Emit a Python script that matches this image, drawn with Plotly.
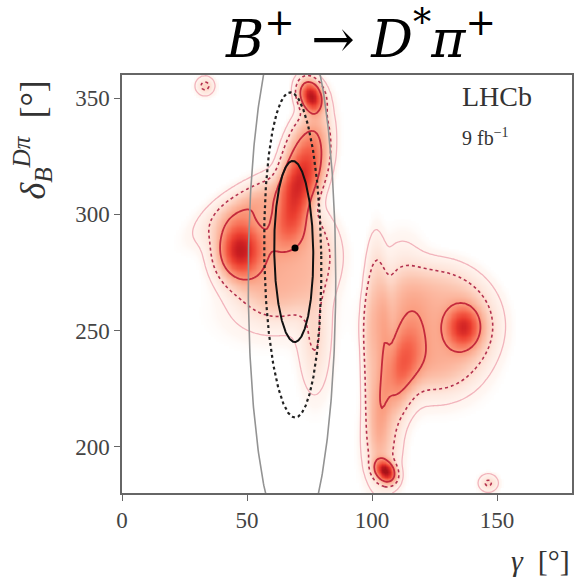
import numpy as np
import plotly.graph_objects as go

# ---- axis ranges / ticks ----
x_range = [0, 180]
y_range = [180, 360]
x_ticks = [0, 50, 100, 150]
y_ticks = [200, 250, 300, 350]

# ---- likelihood density components ----
# gamma centre, delta centre, width across, width along, tilt (deg), height, shape power
blob_gamma = [46.5, 71.0, 68.0, 75.5, 63.0, 73.0, 77.0, 60.0, 52.0, 33.2,
              136.5, 111.0, 105.2, 125.0, 101.5, 104.0, 125.0, 112.0, 146.5]
blob_delta = [285.0, 314.0, 295.0, 351.0, 282.0, 322.0, 246.0, 258.0, 305.0, 355.3,
              251.5, 232.0, 189.4, 252.0, 243.0, 200.0, 230.0, 272.0, 184.3]
blob_sg    = [5.6, 4.5, 5.0, 2.9, 18.0, 8.0, 4.0, 14.0, 5.0, 2.3,
              4.5, 4.8, 2.3, 20.0, 4.5, 4.5, 12.0, 6.0, 2.4]
blob_sd    = [8.0, 15.0, 7.0, 4.5, 20.0, 19.0, 15.0, 9.0, 14.0, 2.5,
              6.0, 14.0, 3.2, 21.0, 37.0, 12.0, 9.0, 12.0, 2.4]
blob_rot   = [0, 15, 0, -15, 0, 10, 0, 0, 57, 0,
              0, 13, -30, 0, 0, 0, 0, 0, 0]
blob_amp   = [0.75, 0.55, 0.15, 1.0, 0.3, 0.26, 0.14, 0.07, 0.26, 0.178,
              0.6, 0.45, 1.0, 0.3, 0.2, 0.2, 0.08, 0.1, 0.162]
blob_pow   = [2, 2, 2, 2, 4, 4, 2, 2, 2, 2,
              2, 2, 2, 4, 4, 2, 2, 2, 2]

levels = [0.04, 0.14, 0.40]   # outer, dotted, inner contour

# ---- ellipses: centre gamma, centre delta, semi-axis gamma, semi-axis delta, tilt deg ----
ell_cg  = [68.0, 68.3, 68.7]
ell_cd  = [272.0, 282.5, 284.0]
ell_ag  = [17.5, 11.4, 7.8]
ell_ad  = [116.0, 70.0, 39.0]
ell_rot = [0.0, 0.8, 0.6]

best_gamma = [69.2]
best_delta = [285.5]

# ---- density grid ----
gx = np.arange(0, 180.5, 1.0)
gy = np.arange(180, 360.5, 1.0)
X, Y = np.meshgrid(gx, gy)
Z = np.zeros_like(X)
for mx, my, sg, sd, rot, amp, pw in zip(blob_gamma, blob_delta, blob_sg, blob_sd,
                                         blob_rot, blob_amp, blob_pow):
    a = np.deg2rad(rot)
    dx, dy = X - mx, Y - my
    v = dx * np.sin(a) + dy * np.cos(a)
    u = dx * np.cos(a) - dy * np.sin(a)
    r2 = u ** 2 / sg ** 2 + v ** 2 / sd ** 2
    Z += amp * np.exp(-0.5 * r2 ** (pw / 2.0))

Zh = np.where(Z < 0.008, np.nan, Z)

reds = [[0.0, "rgba(255,255,255,0)"], [0.02, "#fff7f3"], [0.1, "#fee6dc"], [0.22, "#fcc5b0"],
        [0.38, "#fb9a7c"], [0.55, "#f6644c"], [0.7, "#eb3d2f"], [0.85, "#cd1f22"], [1.0, "#a81318"]]

fig = go.Figure()
fig.add_trace(go.Heatmap(x=gx, y=gy, z=Zh, colorscale=reds, zmin=0, zmax=1.08,
                         showscale=False, zsmooth="best", hoverinfo="skip"))

line_styles = [("#f2b4bc", 1.3, "solid"), ("#b3304e", 1.6, "dot"), ("#c42a3c", 1.8, "solid")]
for lev, (col, w, dash) in zip(levels, line_styles):
    fig.add_trace(go.Contour(x=gx, y=gy, z=Z, contours=dict(start=lev, end=lev, size=1, coloring="none"),
                             line=dict(color=col, width=w, dash=dash), showscale=False, hoverinfo="skip"))

ell_styles = [("#939393", 1.6, "solid"), ("#222222", 2.2, "dot"), ("#111111", 2.0, "solid")]
t = np.linspace(0, 2 * np.pi, 400)
for cg, cd, ag, ad, rot, (col, w, dash) in zip(ell_cg, ell_cd, ell_ag, ell_ad, ell_rot, ell_styles):
    th = np.deg2rad(rot)
    ex = cg + ag * np.cos(t) * np.cos(th) - ad * np.sin(t) * np.sin(th)
    ey = cd + ag * np.cos(t) * np.sin(th) + ad * np.sin(t) * np.cos(th)
    fig.add_trace(go.Scatter(x=ex, y=ey, mode="lines", line=dict(color=col, width=w, dash=dash),
                             hoverinfo="skip", showlegend=False))

fig.add_trace(go.Scatter(x=best_gamma, y=best_delta, mode="markers",
                         marker=dict(color="black", size=7), showlegend=False))

serif = "Liberation Serif, DejaVu Serif, serif"
axis_common = dict(showline=True, mirror=True, linecolor="#666", linewidth=1.5, ticks="outside",
                   ticklen=6, tickcolor="#666", showgrid=False, zeroline=False,
                   tickfont=dict(family=serif, size=23, color="#444"))
fig.update_layout(
    width=588, height=583, margin=dict(l=122, r=16, t=75, b=90),
    paper_bgcolor="white", plot_bgcolor="white", showlegend=False,
    xaxis=dict(range=x_range, tickvals=x_ticks, **axis_common),
    yaxis=dict(range=y_range, tickvals=y_ticks, **axis_common),
)
fig.add_annotation(xref="paper", yref="paper", x=0.529, y=1.0, yshift=40, yanchor="middle", showarrow=False,
                   text="<i>B</i><sup>+</sup> → <i>D</i><sup>*</sup><i>π</i><sup>+</sup>",
                   font=dict(family="DejaVu Serif, serif", size=52, color="black"))
fig.add_annotation(xref="paper", yref="paper", x=-0.2, y=1.0, yshift=-4, xanchor="center", yanchor="top",
                   textangle=-90, showarrow=False,
                   text="<i>δ</i><sub><i>B</i></sub><sup><i>Dπ</i></sup>  [°]",
                   font=dict(family=serif, size=36, color="#333"))
fig.add_annotation(xref="paper", yref="paper", x=1.0, y=0, yshift=-67, xanchor="right", yanchor="middle",
                   showarrow=False, text="<i>γ</i>  [°]", font=dict(family=serif, size=30, color="#333"))
fig.add_annotation(xref="paper", yref="paper", x=0.75, y=0.99, xanchor="left", yanchor="top",
                   showarrow=False, text="LHCb", font=dict(family=serif, size=28, color="#333"))
fig.add_annotation(xref="paper", yref="paper", x=0.75, y=0.885, xanchor="left", yanchor="top",
                   showarrow=False, text="9 fb<sup>−1</sup>", font=dict(family=serif, size=20, color="#333"))

fig.write_html("out.html")
